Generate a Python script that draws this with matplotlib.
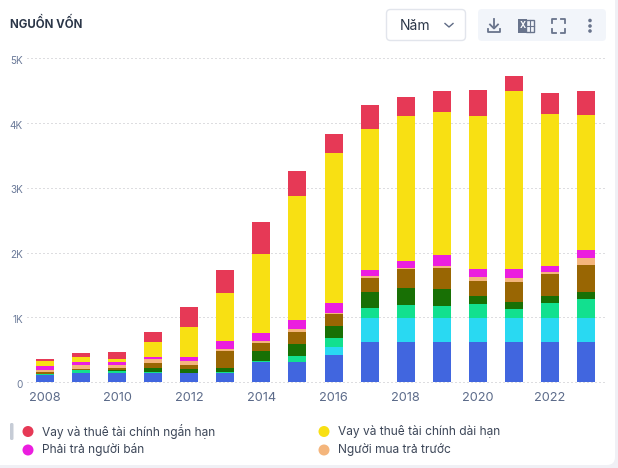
import matplotlib
matplotlib.use("Agg")
import matplotlib.pyplot as plt
from matplotlib.patches import FancyBboxPatch, Rectangle, Circle
from matplotlib.transforms import ScaledTranslation
import numpy as np

plt.rcParams['font.family'] = ['Inter', 'Noto Sans', 'DejaVu Sans']

years = list(range(2008, 2024))
tien = [108,139,139,139,139,139,309,309,418,619,619,619,619,619,619,619]
dau_tu = [0,0,0,0,0,0,0,0,123,371,371,371,371,371,371,371]
phai_thu = [16,47,31,16,0,16,16,93,139,154,201,185,216,139,232,294]
ton_kho = [10,5,16,61,62,61,154,186,186,248,263,263,124,108,108,108]
khac = [21,10,30,78,62,263,124,185,186,216,293,325,232,309,340,417]
nguoi_mua = [31,57,47,62,62,31,31,47,15,31,16,31,62,62,31,109]
nguoi_ban = [61,51,46,31,62,124,124,139,155,93,108,170,123,139,93,123]
dai_han = [78,78,47,232,464,742,1221,1917,2319,2180,2242,2211,2366,2753,2350,2088]
ngan_han = [31,61,108,154,309,356,495,387,294,372,294,325,402,232,325,371]

series = [tien, dau_tu, phai_thu, ton_kho, khac, nguoi_mua, nguoi_ban, dai_han, ngan_han]
colors = ['#4166DF', '#29D9F2', '#12E08F', '#187005', '#996603', '#F4B57C', '#EB1EDF', '#F8E013', '#E63956']
legend_labels = ['Vay và thuê tài chính ngắn hạn', 'Vay và thuê tài chính dài hạn',
                 'Phải trả người bán', 'Người mua trả trước']
legend_colors = ['#E63956', '#F8E013', '#EB1EDF', '#F4B57C']
y_ticks = [0, 1000, 2000, 3000, 4000, 5000]
y_labels = ['0', '1K', '2K', '3K', '4K', '5K']

W, H = 618, 468
fig = plt.figure(figsize=(W/100, H/100), dpi=100, facecolor='#F0F0F5')

# pixel overlay
ov = fig.add_axes([0, 0, 1, 1], zorder=0)
ov.set_xlim(0, W); ov.set_ylim(H, 0); ov.axis('off')
ov.add_patch(FancyBboxPatch((-20, -20), 635, 485, boxstyle='round,pad=0,rounding_size=8',
                            fc='white', ec='none'))

# chart
L, R, T, B = 27, 604, 58.5, 382.2
ax = fig.add_axes([L/W, 1-B/H, (R-L)/W, (B-T)/H], zorder=1)
ax.patch.set_alpha(0)
x = np.arange(len(years))
bottom = np.zeros(len(years))
for vals, c in zip(series, colors):
    ax.bar(x, vals, width=0.5, bottom=bottom, color=c, linewidth=0, zorder=3)
    bottom += np.array(vals)
ax.set_xlim(-0.5, 15.5)
ax.set_ylim(0, 5000)
for s in ax.spines.values():
    s.set_visible(False)
ax.set_yticks(y_ticks)
ax.set_yticklabels(y_labels, fontsize=7.2, color='#6B7A99')
ax.set_xticks(x[::2])
ax.set_xticklabels(years[::2], fontsize=9.2, color='#5C6B8A')
ax.tick_params(axis='both', length=0)
ax.tick_params(axis='y', pad=3)
ax.tick_params(axis='x', pad=7)
down = ScaledTranslation(0, -1.5/100, fig.dpi_scale_trans)
for lb in ax.get_yticklabels():
    lb.set_transform(lb.get_transform() + down)
ax.grid(axis='y', color='#BDBDC2', linestyle=(0, (1, 3)), linewidth=0.72, zorder=0)
ax.set_axisbelow(True)
for g in ax.get_ygridlines():
    g.set_clip_on(False)

# title
ov.text(10, 24, 'NGUỒN VỐN', fontsize=8.3, fontweight='bold', color='#2B3648', va='center', ha='left')

# dropdown
ov.add_patch(FancyBboxPatch((386.5, 9.5), 79, 31, boxstyle='round,pad=0,rounding_size=4',
                            fc='white', ec='#E2E5EC', lw=1))
ov.text(400, 26.5, 'Năm', fontsize=10, color='#2B3648', va='center', ha='left')
ov.plot([445, 449, 453], [23.5, 27, 23.5], color='#5F6B85', lw=1)

# toolbar
ov.add_patch(FancyBboxPatch((478, 9), 128, 32, boxstyle='round,pad=0,rounding_size=4',
                            fc='#F2F5FA', ec='none'))
ic = '#69748C'
# download
ov.plot([494, 494], [19, 28], color=ic, lw=1.3)
ov.plot([490, 494, 498], [24.5, 28.5, 24.5], color=ic, lw=1.3)
ov.plot([488, 488, 500, 500], [29, 32, 32, 29], color=ic, lw=1.3)
# excel
ov.add_patch(Rectangle((526, 20), 8, 12, fc='none', ec=ic, lw=1))
ov.add_patch(Rectangle((518, 19), 9, 14, fc=ic, ec='none'))
ov.text(522.5, 26, 'X', fontsize=6, fontweight='bold', color='white', va='center', ha='center')
ov.plot([530, 530], [20, 32], color=ic, lw=0.8)
ov.plot([527, 534], [26, 26], color=ic, lw=0.8)
# fullscreen
ov.plot([552, 552, 556], [23, 19, 19], color=ic, lw=1.3)
ov.plot([561, 565, 565], [19, 19, 23], color=ic, lw=1.3)
ov.plot([552, 552, 556], [29, 33, 33], color=ic, lw=1.3)
ov.plot([561, 565, 565], [33, 33, 29], color=ic, lw=1.3)
# kebab
for yy in (20.5, 26, 31):
    ov.add_patch(Circle((590, yy), 1.8, fc=ic, ec='none'))

# legend
ov.add_patch(FancyBboxPatch((10, 423), 3.5, 17, boxstyle='round,pad=0,rounding_size=1.5',
                            fc='#C6CCD6', ec='none'))
pos = [(28, 431.5), (324, 431.5), (28, 450), (324, 450)]
for (px, py), lab, c in zip(pos, legend_labels, legend_colors):
    ov.add_patch(Circle((px, py), 5.5, fc=c, ec='none'))
    ov.text(px + 14.5, py, lab, fontsize=8.6, color='#3C4658', va='center', ha='left')

fig.savefig('out.png', dpi=100, facecolor=fig.get_facecolor())
